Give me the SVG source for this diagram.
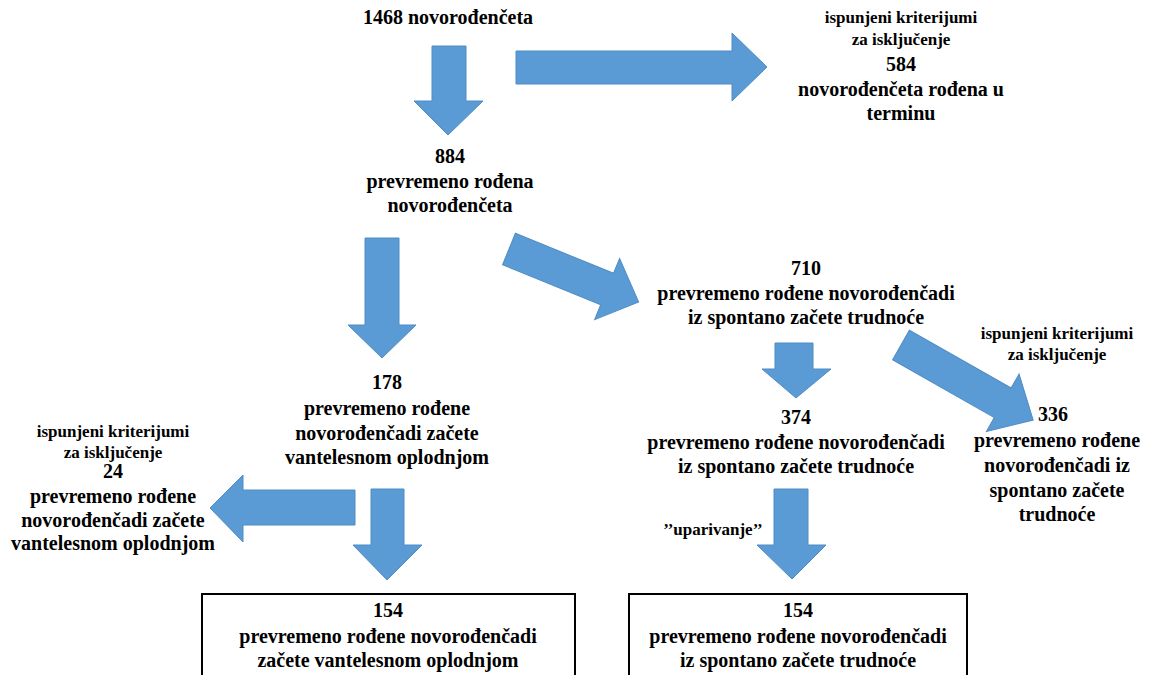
<svg xmlns="http://www.w3.org/2000/svg" width="1153" height="675" viewBox="0 0 1153 675">
<style>
text{font-family:'Liberation Serif','Times New Roman','DejaVu Serif',serif;font-weight:700;fill:#000;text-anchor:middle}
.l{font-size:20px}
.s{font-size:17px}
.arr{fill:#5b9bd5;stroke:#4f8cc4;stroke-width:1}
.box{fill:#fff;stroke:#000;stroke-width:2}
</style>
<rect width="1153" height="675" fill="#fff"/>
<g id="connectors">
<polygon class="arr" points="432,46 466,46 466,101 483,101 448,135 414,101 432,101"/>
<polygon class="arr" points="516,51 732,51 732,33 767,67 732,101 732,84 516,84"/>
<polygon class="arr" points="365,238 399,238 399,325 416,325 382,358 348,325 365,325"/>
<polygon class="arr" transform="translate(509,249) rotate(22.2)" points="0,-17 106,-17 106,-33 140,0 106,33 106,17 0,17"/>
<polygon class="arr" points="775,343 813,343 813,369 831,369 796,398 762,369 775,369"/>
<polygon class="arr" points="774,489 808,489 808,545 826,545 792,579 757,545 774,545"/>
<polygon class="arr" transform="translate(901,345) rotate(29.6)" points="0,-17 117,-17 117,-33 152,0 117,33 117,17 0,17"/>
<polygon class="arr" points="355,490 355,525 243,525 243,542 210,508 243,475 243,490"/>
<polygon class="arr" points="371,489 404,489 404,545 422,545 387,580 353,545 371,545"/>
<text class="s" x="713" y="535" font-family="Liberation Serif, serif">’’uparivanje’’</text>
</g>
<g id="n1468" font-family="Liberation Serif, serif">
<text class="l" x="448" y="24">1468 novorođenčeta</text>
</g>
<g id="n584" font-family="Liberation Serif, serif">
<text class="s" x="901" y="23">ispunjeni kriterijumi</text>
<text class="s" x="901" y="45">za isključenje</text>
<text class="l" x="901" y="71">584</text>
<text class="l" x="901" y="96">novorođenčeta rođena u</text>
<text class="l" x="901" y="120">terminu</text>
</g>
<g id="n884" font-family="Liberation Serif, serif">
<text class="l" x="450" y="163">884</text>
<text class="l" x="450" y="188">prevremeno rođena</text>
<text class="l" x="450" y="212">novorođenčeta</text>
</g>
<g id="n710" font-family="Liberation Serif, serif">
<text class="l" x="806" y="275">710</text>
<text class="l" x="806" y="300">prevremeno rođene novorođenčadi</text>
<text class="l" x="806" y="324">iz spontano začete trudnoće</text>
</g>
<g id="n178" font-family="Liberation Serif, serif">
<text class="l" x="387" y="389">178</text>
<text class="l" x="387" y="415">prevremeno rođene</text>
<text class="l" x="387" y="440">novorođenčadi začete</text>
<text class="l" x="387" y="464">vantelesnom oplodnjom</text>
</g>
<g id="n374" font-family="Liberation Serif, serif">
<text class="l" x="796" y="424">374</text>
<text class="l" x="796" y="449">prevremeno rođene novorođenčadi</text>
<text class="l" x="796" y="473">iz spontano začete trudnoće</text>
</g>
<g id="n336" font-family="Liberation Serif, serif">
<text class="s" x="1057" y="339">ispunjeni kriterijumi</text>
<text class="s" x="1057" y="360">za isključenje</text>
<text class="l" x="1053" y="421">336</text>
<text class="l" x="1057" y="447">prevremeno rođene</text>
<text class="l" x="1057" y="472">novorođenčadi iz</text>
<text class="l" x="1057" y="497">spontano začete</text>
<text class="l" x="1057" y="521">trudnoće</text>
</g>
<g id="n24" font-family="Liberation Serif, serif">
<text class="s" x="113" y="437">ispunjeni kriterijumi</text>
<text class="s" x="113" y="458">za isključenje</text>
<text class="l" x="113" y="478">24</text>
<text class="l" x="113" y="503">prevremeno rođene</text>
<text class="l" x="113" y="527">novorođenčadi začete</text>
<text class="l" x="113" y="550">vantelesnom oplodnjom</text>
</g>
<g id="box1" font-family="Liberation Serif, serif">
<rect class="box" x="202" y="594" width="373" height="100"/>
<text class="l" x="388" y="617">154</text>
<text class="l" x="388" y="643">prevremeno rođene novorođenčadi</text>
<text class="l" x="388" y="667">začete vantelesnom oplodnjom</text>
</g>
<g id="box2" font-family="Liberation Serif, serif">
<rect class="box" x="629" y="594" width="338" height="100"/>
<text class="l" x="798" y="617">154</text>
<text class="l" x="798" y="643">prevremeno rođene novorođenčadi</text>
<text class="l" x="798" y="667">iz spontano začete trudnoće</text>
</g>
</svg>
